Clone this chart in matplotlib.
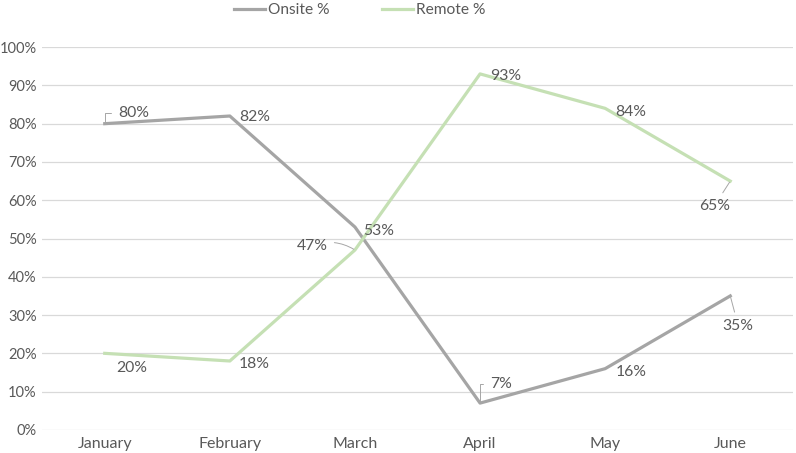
import matplotlib.pyplot as plt
import numpy as np

months = ['January', 'February', 'March', 'April', 'May', 'June']
onsite = [80, 82, 53, 7, 16, 35]
remote = [20, 18, 47, 93, 84, 65]

# label offsets in pixels (dx, dy) relative to each point, and leader line style (None = no line)
onsite_off = [(29, 11), (25, -1), (24, -4), (21, 19), (26, -3), (8, -30)]
onsite_lead = ['angle,angleA=0,angleB=90,rad=0', None, None,
               'angle,angleA=0,angleB=90,rad=0', None, 'arc3']
remote_off = [(27, -15), (24, -3), (-43, 4), (26, -2), (26, -4), (-16, -25)]
remote_lead = [None, None, 'arc3,rad=-0.25', None, None, 'arc3']

txt = '#595959'
grey = '#A5A5A5'
green = '#C5E0B4'

plt.rcParams['font.family'] = ['Lato', 'DejaVu Sans']

fig = plt.figure(figsize=(7.96, 4.53), dpi=100)
ax = fig.add_axes([0.053, 0.051, 0.943, 0.845])

x = np.arange(len(months))
ax.plot(x, onsite, color=grey, lw=2.3, label='Onsite %', solid_joinstyle='round')
ax.plot(x, remote, color=green, lw=2.3, label='Remote %', solid_joinstyle='round')

def add_labels(vals, offs, leads):
    for xi, v, (dx, dy), lead in zip(x, vals, offs, leads):
        kw = {}
        if lead:
            kw['arrowprops'] = dict(arrowstyle='-', color='#A6A6A6', lw=0.7,
                                    shrinkA=3, shrinkB=1, connectionstyle=lead)
        ax.annotate(f'{v}%', (xi, v), xytext=(dx, dy), textcoords='offset pixels',
                    ha='center', va='center', fontsize=11.3, color=txt, **kw)

add_labels(onsite, onsite_off, onsite_lead)
add_labels(remote, remote_off, remote_lead)

ax.set_xlim(-0.5, len(months) - 0.5)
ax.set_ylim(0, 100)
ax.set_yticks(np.arange(0, 101, 10))
ax.set_yticklabels([f'{t}%' for t in range(0, 101, 10)])
ax.set_xticks(x)
ax.set_xticklabels(months)
ax.tick_params(length=0, labelsize=10.5, colors=txt)
ax.tick_params(axis='x', labelsize=11.5, pad=5)
ax.tick_params(axis='y', pad=4)
ax.grid(axis='y', color='#D9D9D9', lw=0.9)
ax.set_axisbelow(True)
for s in ax.spines.values():
    s.set_visible(False)

ax.legend(loc='lower center', bbox_to_anchor=(0.423, 1.062), ncol=2, frameon=False,
          fontsize=11.2, labelcolor=txt, handlelength=2.0, handletextpad=0.2,
          columnspacing=3.4, borderaxespad=0)

fig.savefig('out.png', dpi=100)
